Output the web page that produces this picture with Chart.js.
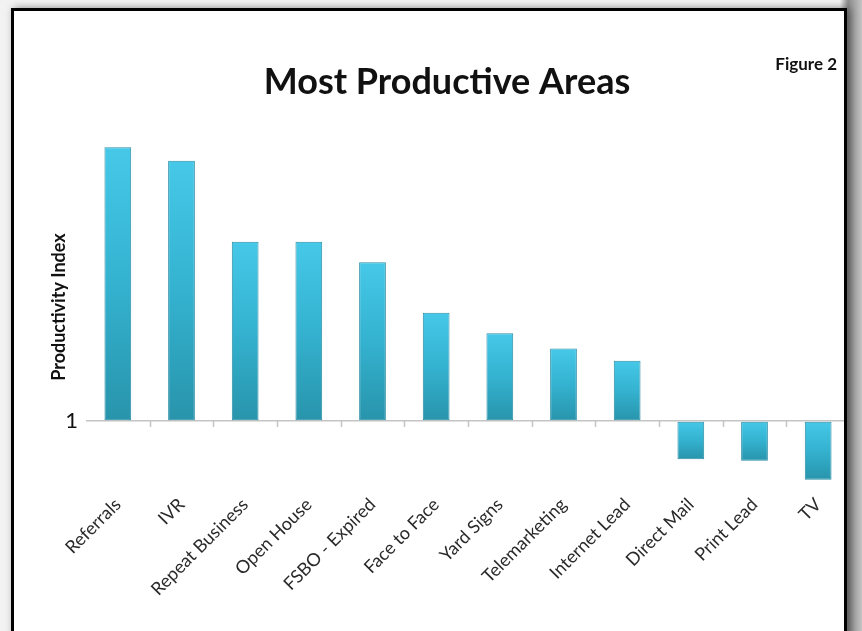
<!DOCTYPE html>
<html>
<head>
<meta charset="utf-8">
<script src="https://cdn.jsdelivr.net/npm/chart.js@4.4.1/dist/chart.umd.min.js"></script>
<style>
  html, body { margin: 0; padding: 0; }
  body {
    width: 862px; height: 631px; overflow: hidden; position: relative;
    background: linear-gradient(to right, #f2f2f2 0, #f2f2f2 840px, #8c8c8c 848px, #c4c4c4 862px);
    font-family: Lato, "Liberation Sans", sans-serif;
  }
  #panel {
    position: absolute; left: 11px; top: 8px; width: 836px; height: 640px;
    background: #fff; box-shadow: 3px 0 8px rgba(0,0,0,0.45);
  }
  #frame {
    position: absolute; left: 11px; top: 8px; width: 830px; height: 640px;
    border: 3px solid #000; z-index: 3; pointer-events: none;
  }
  #clip { position: absolute; left: 44px; top: 0; width: 800px; height: 631px; overflow: hidden; z-index: 2; }
  #wrap { position: absolute; left: 0; top: 0; width: 818px; height: 631px; }
  #fig {
    position: absolute; right: 25px; top: 53px; z-index: 4;
    font: bold 17px Lato, sans-serif; color: #111;
  }
</style>
</head>
<body>
<div id="panel"></div>
<div id="clip"><div id="wrap"><canvas id="chart"></canvas></div></div>
<div id="frame"></div>
<div id="fig">Figure 2</div>
<script>
// Dados do gráfico
const categories = ['Referrals', 'IVR', 'Repeat Business', 'Open House', 'FSBO - Expired',
  'Face to Face', 'Yard Signs', 'Telemarketing', 'Internet Lead', 'Direct Mail', 'Print Lead', 'TV'];
const productivity = [3.0, 2.9, 2.31, 2.31, 2.16, 1.79, 1.64, 1.53, 1.44, 0.72, 0.71, 0.57];
const yTicks = [1];
const baseValue = 1;

// Gradiente de cada barra, do topo até a base
function barColor(context) {
  const chart = context.chart;
  if (!chart.chartArea) return '#35b3d3';
  const y = chart.scales.y;
  const v = context.raw;
  const top = y.getPixelForValue(Math.max(v, baseValue));
  const bottom = y.getPixelForValue(Math.min(v, baseValue));
  if (!isFinite(top) || bottom - top < 1) return '#35b3d3';
  const g = chart.ctx.createLinearGradient(0, top, 0, bottom);
  g.addColorStop(0, '#46c8e8');
  g.addColorStop(0.5, '#34b2d0');
  g.addColorStop(1, '#2894ab');
  return g;
}

// Marcas do eixo entre as categorias
const categoryTicks = {
  id: 'categoryTicks',
  beforeDatasetsDraw(chart) {
    const x = chart.scales.x;
    const y = chart.scales.y.getPixelForValue(baseValue);
    const c = chart.ctx;
    c.save();
    c.strokeStyle = '#c4c4c4';
    c.lineWidth = 1.5;
    c.beginPath();
    for (let i = 0; i < categories.length - 1; i++) {
      const bx = Math.round((x.getPixelForValue(i) + x.getPixelForValue(i + 1)) / 2) + 0.5;
      c.moveTo(bx, y);
      c.lineTo(bx, y + 6);
    }
    c.stroke();
    c.restore();
  }
};

const chart = new Chart(document.getElementById('chart'), {
  type: 'bar',
  data: {
    labels: categories,
    datasets: [{
      data: productivity,
      base: baseValue,
      backgroundColor: barColor,
      borderColor: '#2a8ea6',
      borderWidth: 1,
      borderSkipped: false,
      categoryPercentage: 1,
      barPercentage: 0.42
    }]
  },
  options: {
    responsive: true,
    maintainAspectRatio: false,
    animation: false,
    layout: { padding: { left: 0, right: 12, bottom: 29 } },
    plugins: {
      legend: { display: false },
      tooltip: { enabled: false },
      title: {
        display: true,
        text: 'Most Productive Areas',
        color: '#111',
        font: { family: 'Lato', size: 36, weight: 'bold' },
        padding: { top: 61, bottom: 26 }
      }
    },
    scales: {
      x: {
        grid: { display: false },
        border: { display: false },
        ticks: {
          color: '#2a2a2a',
          font: { family: 'Lato', size: 18 },
          maxRotation: 45,
          minRotation: 45,
          autoSkip: false,
          padding: 2
        }
      },
      y: {
        min: 0.54,
        max: 3.124,
        afterBuildTicks: (scale) => { scale.ticks = yTicks.map(v => ({ value: v })); },
        afterFit: (scale) => { scale.width = 42; },
        grid: { color: '#c4c4c4', lineWidth: 1.5, drawTicks: false },
        border: { display: false },
        ticks: {
          color: '#111',
          font: { family: 'Lato', size: 22 },
          padding: 8
        },
        title: {
          display: true,
          text: 'Productivity Index',
          color: '#111',
          font: { family: 'Lato', size: 18, weight: 'bold' },
          padding: { top: 4, bottom: 0 }
        }
      }
    }
  },
  plugins: [categoryTicks]
});
</script>
</body>
</html>
